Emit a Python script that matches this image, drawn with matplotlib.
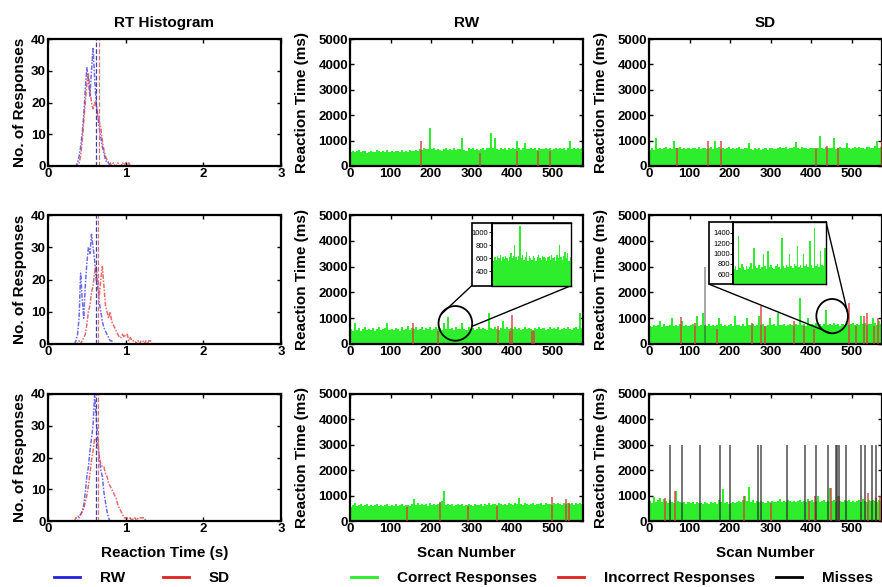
import numpy as np
import matplotlib.pyplot as plt
from matplotlib.lines import Line2D
from matplotlib.patches import Ellipse, Rectangle, ConnectionPatch

plt.rcParams['font.family'] = ['Liberation Sans', 'DejaVu Sans']
plt.rcParams['font.weight'] = 'bold'
plt.rcParams['axes.labelweight'] = 'bold'
plt.rcParams['axes.titleweight'] = 'bold'

# ---------------- histogram data (RT in s, counts) ----------------
rt_bins = np.round(np.arange(0.34, 1.41, 0.02), 2)

hist_rw_1 = [0, 0, 1, 3, 6, 10, 16, 24, 31, 27, 22, 30, 37, 28, 20, 16, 12, 9, 6, 4,
             2, 1, 1, 0, 0, 0, 0, 0, 0, 0, 0, 0, 0, 0, 0, 0, 0, 0, 0, 0,
             0, 0, 0, 0, 0, 0, 0, 0, 0, 0, 0, 0, 0, 0]
hist_sd_1 = [0, 0, 0, 1, 3, 8, 14, 20, 26, 29, 24, 20, 18, 20, 19, 16, 14, 12, 8, 5,
             3, 2, 1, 1, 0, 1, 0, 0, 1, 0, 0, 1, 0, 1, 0, 1, 0, 0, 0, 0,
             0, 0, 0, 0, 0, 0, 0, 0, 0, 0, 0, 0, 0, 0]
hist_rw_2 = [0, 1, 3, 8, 22, 14, 8, 18, 25, 30, 28, 34, 30, 26, 20, 18, 13, 10, 7, 5,
             4, 3, 2, 1, 1, 0, 0, 0, 0, 0, 0, 0, 0, 0, 0, 0, 0, 0, 0, 0,
             0, 0, 0, 0, 0, 0, 0, 0, 0, 0, 0, 0, 0, 0]
hist_sd_2 = [0, 0, 0, 1, 0, 1, 2, 3, 6, 10, 12, 16, 18, 22, 24, 19, 15, 20, 24, 18,
             12, 10, 8, 10, 7, 6, 5, 4, 3, 2, 2, 3, 2, 3, 3, 1, 2, 1, 1, 1,
             0, 1, 0, 1, 1, 0, 1, 0, 1, 1, 0, 0, 0, 0]
hist_rw_3 = [0, 0, 0, 1, 2, 3, 5, 9, 14, 17, 22, 26, 30, 40, 33, 26, 20, 16, 14, 9,
             6, 3, 1, 0, 0, 0, 0, 0, 0, 0, 0, 0, 0, 0, 0, 0, 0, 0, 0, 0,
             0, 0, 0, 0, 0, 0, 0, 0, 0, 0, 0, 0, 0, 0]
hist_sd_3 = [0, 1, 1, 2, 2, 3, 4, 6, 8, 11, 15, 19, 22, 26, 25, 24, 20, 18, 17, 17,
             15, 14, 12, 11, 10, 9, 8, 7, 5, 4, 3, 2, 1, 1, 1, 0, 1, 0, 1, 1,
             0, 1, 1, 1, 1, 1, 0, 0, 0, 0, 0, 0, 0, 0]
median_rw = [0.62, 0.62, 0.62]
median_sd = [0.66, 0.64, 0.64]

# ---------------- reaction times per scan (5-scan groups, ms) ----------------
rt_rw_1 = [560, 600, 540, 580, 620, 550, 590, 610, 530, 570,
           600, 560, 540, 620, 580, 550, 600, 570, 620, 560,
           590, 540, 610, 580, 560, 630, 570, 600, 550, 620,
           580, 610, 640, 600, 650, 620, 700, 680, 660, 1500,
           650, 700, 620, 680, 640, 600, 660, 690, 630, 650,
           620, 700, 640, 680, 660, 1100, 640, 600, 690, 650,
           700, 640, 680, 620, 660, 700, 640, 690, 720, 1300,
           700, 1100, 680, 640, 700, 660, 720, 640, 690, 660,
           700, 650, 1000, 690, 640, 720, 900, 680, 650, 700,
           660, 720, 640, 700, 680, 650, 720, 660, 700, 640,
           680, 720, 650, 700, 660, 690, 640, 720, 1000, 680, 700, 650, 720, 660, 690]
rt_sd_1 = [640, 700, 620, 1100, 680, 720, 650, 700, 740, 680,
           720, 660, 1000, 700, 690, 740, 660, 720, 680, 710,
           650, 720, 700, 680, 740, 660, 700, 720, 650, 690,
           730, 680, 1000, 700, 740, 680, 720, 660, 700, 740,
           680, 720, 650, 700, 730, 680, 660, 710, 690, 900,
           680, 620, 700, 650, 690, 630, 680, 700, 640, 690,
           720, 680, 650, 700, 740, 690, 710, 730, 680, 720,
           700, 740, 950, 700, 680, 730, 690, 720, 660, 700,
           690, 720, 660, 700, 1200, 710, 680, 740, 700, 690,
           720, 1100, 680, 700, 740, 690, 720, 900, 700, 680,
           720, 740, 690, 760, 700, 720, 680, 740, 760, 700, 720, 780, 1000, 720, 760]
rt_rw_2 = [600, 520, 800, 560, 620, 500, 580, 640, 540, 600,
           560, 620, 520, 600, 650, 540, 580, 620, 800, 560,
           600, 540, 620, 580, 500, 640, 560, 600, 680, 540,
           620, 580, 640, 560, 600, 660, 540, 620, 580, 640,
           560, 600, 650, 580, 620, 560, 800, 600, 1060, 580,
           620, 560, 640, 600, 580, 820, 600, 560, 640, 580,
           620, 560, 600, 640, 580, 620, 600, 560, 1200, 620,
           580, 640, 600, 560, 620, 900, 600, 640, 580, 620,
           600, 640, 580, 620, 560, 600, 640, 580, 620, 600,
           560, 620, 600, 640, 580, 620, 560, 600, 640, 580,
           620, 600, 640, 560, 600, 620, 580, 640, 600, 560, 620, 640, 580, 1200, 620]
rt_sd_2 = [700, 650, 740, 680, 720, 900, 660, 760, 700, 680,
           740, 1000, 700, 720, 680, 760, 900, 700, 740, 680,
           720, 760, 680, 1100, 700, 740, 1200, 720, 680, 760,
           700, 740, 680, 720, 1000, 760, 700, 740, 680, 720,
           760, 700, 1100, 740, 720, 680, 760, 700, 1000, 740,
           720, 760, 700, 740, 1100, 720, 760, 700, 740, 1000,
           720, 760, 700, 1200, 740, 720, 780, 700, 740, 760,
           720, 700, 760, 740, 1780, 720, 760, 700, 1000, 740,
           760, 720, 800, 740, 760, 700, 780, 1300, 740, 760,
           720, 800, 740, 760, 700, 780, 740, 800, 720, 760,
           800, 740, 780, 720, 1100, 760, 800, 740, 780, 760, 1000, 800, 740, 900, 780]
rt_rw_3 = [560, 620, 700, 600, 640, 680, 580, 620, 660, 600,
           640, 580, 620, 680, 600, 640, 580, 620, 660, 600,
           640, 600, 660, 580, 620, 680, 600, 640, 620, 580,
           660, 850, 640, 700, 620, 680, 640, 660, 600, 700,
           640, 680, 620, 660, 700, 780, 1200, 640, 680, 620,
           660, 600, 640, 680, 620, 660, 600, 640, 680, 620,
           600, 660, 640, 620, 680, 600, 660, 640, 700, 620,
           660, 680, 640, 700, 660, 620, 680, 640, 700, 660,
           640, 700, 660, 900, 680, 640, 700, 660, 620, 680,
           700, 640, 680, 660, 720, 640, 700, 660, 680, 640,
           700, 660, 720, 680, 640, 700, 660, 720, 680, 700, 640, 720, 680, 700, 660]
rt_sd_3 = [800, 700, 950, 760, 820, 900, 740, 860, 780, 700,
           820, 760, 700, 1200, 800, 760, 700, 740, 680, 760,
           700, 740, 680, 760, 720, 700, 660, 740, 720, 680,
           760, 700, 740, 680, 820, 760, 1250, 700, 740, 680,
           720, 760, 700, 740, 800, 760, 820, 1000, 780, 1350,
           760, 820, 700, 780, 740, 800, 760, 720, 780, 740,
           800, 760, 740, 780, 860, 740, 800, 760, 820, 780,
           760, 800, 740, 780, 820, 760, 800, 740, 860, 780,
           820, 760, 800, 1000, 760, 780, 820, 760, 800, 1300,
           780, 820, 760, 1000, 800, 760, 820, 780, 840, 760,
           800, 760, 780, 820, 760, 880, 800, 760, 820, 780, 840, 800, 760, 820, 800]

# incorrect responses (scan, ms)
wrong_rw_1 = ([176, 320, 413, 463, 494], [1000, 500, 600, 600, 600])
wrong_sd_1 = ([69, 145, 177, 411, 439, 466, 574], [700, 1000, 1000, 700, 800, 700, 1000])
wrong_rw_2 = ([155, 217, 365, 395, 400, 450, 455], [830, 500, 700, 500, 1120, 500, 500])
wrong_sd_2 = ([80, 113, 169, 255, 276, 287, 358, 383, 407, 494, 511, 530, 537, 555, 566],
              [1060, 800, 600, 800, 1470, 700, 900, 700, 600, 1590, 700, 1100, 1200, 700, 1000])
wrong_rw_3 = ([141, 222, 291, 362, 499, 533, 540], [540, 760, 600, 600, 930, 860, 700])
wrong_sd_3 = ([40, 65, 235, 300, 395, 410, 450, 470, 540, 560, 570],
              [900, 1200, 1000, 700, 800, 1000, 1300, 1000, 1100, 900, 1000])

# misses (scan), plotted at 3000 ms
miss_sd_2 = [137]
miss_sd_3 = [52, 81, 126, 175, 199, 270, 276, 341, 385, 412, 441, 462, 465, 469,
             485, 524, 533, 550, 561]

# zoomed views (single scans)
zoom_rw_2 = [600, 560, 620, 580, 640, 600, 650, 560, 620, 590,
             640, 600, 560, 620, 680, 600, 640, 800, 620, 580,
             640, 1100, 600, 660, 580, 620, 700, 560, 640, 600,
             580, 640, 600, 560, 620, 650, 600, 580, 640, 620,
             600, 560, 620, 640, 580, 660, 600, 620, 560, 650,
             600, 800, 620, 580, 640, 700, 600, 680, 560, 620]
zoom_sd_2 = [700, 760, 680, 1350, 720, 800, 740, 680, 760, 700,
             740, 820, 700, 1100, 760, 720, 780, 700, 740, 1000,
             760, 700, 1050, 740, 780, 720, 700, 760, 800, 740,
             700, 1300, 760, 720, 780, 740, 1000, 760, 720, 800,
             760, 1150, 740, 780, 720, 1000, 760, 800, 740, 1250,
             780, 720, 1500, 760, 800, 740, 1050, 780, 760, 1100]

GREEN = '#2ded2d'
RED = '#dd3b3b'
BLUE = '#3a3af0'
FS = 11

W, H = 882, 587
fig = plt.figure(figsize=(W / 100, H / 100), dpi=100)


def px_axes(left, top, w, h, **kw):
    return fig.add_axes([left / W, 1 - (top + h) / H, w / W, h / H], **kw)


def style(ax):
    for s in ax.spines.values():
        s.set_linewidth(1.6)
    ax.tick_params(direction='in', top=True, right=True, length=3, width=1,
                   labelsize=9.5, pad=1.5)


col_left = [48, 350, 649]
row_top = [39, 215, 394]
row_h = [127, 129, 127]

hists = [(hist_rw_1, hist_sd_1), (hist_rw_2, hist_sd_2), (hist_rw_3, hist_sd_3)]
rts = [(rt_rw_1, rt_sd_1), (rt_rw_2, rt_sd_2), (rt_rw_3, rt_sd_3)]
wrongs = [(wrong_rw_1, wrong_sd_1), (wrong_rw_2, wrong_sd_2), (wrong_rw_3, wrong_sd_3)]
misses = [([], []), ([], miss_sd_2), ([], miss_sd_3)]
scan_pos = np.arange(len(rt_rw_1)) * 5 + 2.5

axes = {}
for r in range(3):
    # histogram
    ax = px_axes(col_left[0], row_top[r], 233, row_h[r])
    hr, hs = hists[r]
    ax.plot(rt_bins, hr, color=BLUE, ls=(0, (3, 1, 1, 1)), lw=1.1, alpha=0.75)
    ax.plot(rt_bins, hs, color=RED, ls=(0, (3, 1, 1, 1)), lw=1.1, alpha=0.75)
    ax.axvline(median_rw[r], color='#4040a0', ls='--', lw=0.9)
    ax.axvline(median_sd[r], color='#e07070', ls='--', lw=0.9)
    ax.set_xlim(0, 3)
    ax.set_ylim(0, 40)
    ax.set_xticks([0, 1, 2, 3])
    ax.set_yticks([0, 10, 20, 30, 40])
    style(ax)
    ax.set_ylabel('No. of Responses', fontsize=FS)
    ax.yaxis.set_label_coords(-0.092, 0.5)
    if r == 0:
        ax.set_title('RT Histogram', fontsize=FS, pad=8.5)
    if r == 2:
        ax.set_xlabel('Reaction Time (s)', fontsize=FS, labelpad=8)

    for c in range(2):
        ax = px_axes(col_left[c + 1], row_top[r], 233, row_h[r])
        ax.bar(scan_pos, rts[r][c], width=5, color=GREEN, linewidth=0, zorder=2)
        ws, wh = wrongs[r][c]
        ax.vlines(ws, 0, wh, color=RED, lw=1.2, alpha=0.85, zorder=3)
        if misses[r][c]:
            ax.vlines(misses[r][c], 0, 3000, color='#333333', lw=1.2,
                      alpha=0.8 if r == 2 else 0.5, zorder=4)
        ax.set_xlim(0, 575)
        ax.set_ylim(0, 5000)
        ax.set_xticks(range(0, 600, 100))
        ax.set_yticks(range(0, 6000, 1000))
        style(ax)
        ax.set_ylabel('Reaction Time (ms)', fontsize=FS)
        ax.yaxis.set_label_coords(-0.177, 0.5)
        if r == 0:
            ax.set_title(['RW', 'SD'][c], fontsize=FS, pad=8.5)
        if r == 2:
            ax.set_xlabel('Scan Number', fontsize=FS, labelpad=8)
        axes[(r, c)] = ax


def inset(main_ax, box_left, plot_left, top, right, bottom, data, ylim, yticks,
          circle, circ_size, angA, angB, link):
    # white frame holding the tick labels
    fig.add_artist(Rectangle((box_left / W, 1 - bottom / H), (right - box_left) / W,
                             (bottom - top) / H, transform=fig.transFigure,
                             facecolor='white', edgecolor='black', lw=1.2, zorder=4))
    ia = px_axes(plot_left, top, right - plot_left, bottom - top, zorder=5)
    ia.bar(np.arange(len(data)), data, width=1, color=GREEN, linewidth=0)
    ia.set_xlim(-0.5, len(data) - 0.5)
    ia.set_ylim(*ylim)
    ia.set_xticks([])
    ia.set_yticks(yticks)
    ia.tick_params(axis='y', direction='out', length=2, width=0.6, labelsize=5.5, pad=0.5)
    for lab in ia.get_yticklabels():
        lab.set_fontweight('normal')
    for s in ia.spines.values():
        s.set_linewidth(1.0)
    ia.spines['left'].set_linewidth(1.4)
    cx, cy = circle
    cw, ch = circ_size
    main_ax.add_patch(Ellipse((cx, cy), cw, ch, fill=False, edgecolor='black', lw=1.3, zorder=6))
    for ang, corner in zip((angA, angB), link):
        px = cx + cw / 2 * np.cos(np.radians(ang))
        py = cy + ch / 2 * np.sin(np.radians(ang))
        con = ConnectionPatch(xyA=(corner[0] / W, 1 - corner[1] / H), coordsA=fig.transFigure,
                              xyB=(px, py), coordsB=main_ax.transData,
                              color='black', lw=1.0, zorder=3)
        fig.add_artist(con)


inset(axes[(1, 0)], 471.7, 491.7, 222.7, 571, 285.7, zoom_rw_2, (180, 1150),
      [400, 600, 800, 1000], (260, 800), (83, 1345), 150, -10,
      [(471.7, 285.7), (571, 285.7)])
inset(axes[(1, 1)], 709.3, 733.3, 221.7, 826, 284.3, zoom_sd_2, (400, 1620),
      [600, 800, 1000, 1200, 1400], (452, 1080), (78, 1330), -95, 15,
      [(709.3, 284.3), (826, 221.7)])

leg_font = {'weight': 'bold', 'size': FS}
h1 = [Line2D([], [], color='#2020e0', lw=2), Line2D([], [], color='#e02020', lw=2)]
fig.legend(h1, ['RW', 'SD'], loc='center', bbox_to_anchor=(142 / W, 1 - 578 / H), ncol=2,
           frameon=False, prop=leg_font, handlelength=1.7, handletextpad=1.3,
           columnspacing=2.5)
h2 = [Line2D([], [], color='#22ee22', lw=2), Line2D([], [], color='#e02020', lw=2),
      Line2D([], [], color='black', lw=2)]
fig.legend(h2, ['Correct Responses', 'Incorrect Responses', 'Misses'], loc='center',
           bbox_to_anchor=(612 / W, 1 - 578 / H), ncol=3, frameon=False, prop=leg_font,
           handlelength=1.7, handletextpad=1.3, columnspacing=1.4)

fig.savefig('out.png', dpi=100)
